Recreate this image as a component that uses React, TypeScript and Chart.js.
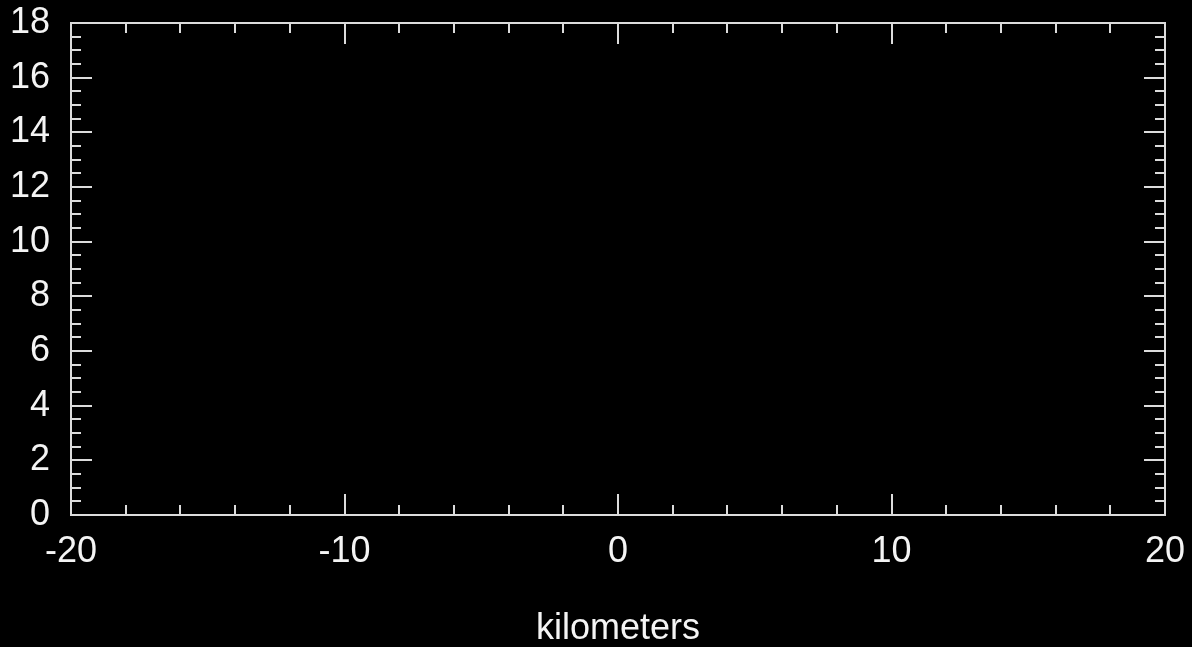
import React, { useEffect, useRef } from "react";
import Chart from "chart.js/auto";

// Axis definitions
const xRange = [-20, 20];
const yRange = [0, 18];
const xLabelStep = 10;
const yLabelStep = 2;
const xMinorStep = 2;
const yMinorStep = 0.5;
const xTitle = "kilometers";
// The plot holds no data
const seriesX: number[] = [];
const seriesY: number[] = [];

const FG = "#dcdcdc";
const TXT = "#f4f4f4";
const FONT = "'Liberation Sans', Arial, sans-serif";

const framePlugin = {
  id: "frame",
  afterDraw(chart: any) {
    const { ctx, chartArea: a, scales } = chart;
    const xs = scales.x;
    const ys = scales.y;
    ctx.save();
    ctx.strokeStyle = FG;
    ctx.lineWidth = 2;
    ctx.lineCap = "butt";
    ctx.strokeRect(a.left, a.top, a.right - a.left, a.bottom - a.top);
    ctx.beginPath();
    const nx = Math.round((xRange[1] - xRange[0]) / xMinorStep);
    for (let i = 1; i < nx; i++) {
      const v = xRange[0] + i * xMinorStep;
      const major = Math.abs(v % xLabelStep) < 1e-9;
      const len = major ? 21 : 10;
      const px = Math.round(xs.getPixelForValue(v));
      ctx.moveTo(px, a.bottom);
      ctx.lineTo(px, a.bottom - len);
      ctx.moveTo(px, a.top);
      ctx.lineTo(px, a.top + len);
    }
    const ny = Math.round((yRange[1] - yRange[0]) / yMinorStep);
    for (let i = 1; i < ny; i++) {
      const v = yRange[0] + i * yMinorStep;
      const major = Math.abs(v % yLabelStep) < 1e-9;
      const len = major ? 21 : 10;
      const py = Math.round(ys.getPixelForValue(v));
      ctx.moveTo(a.left, py);
      ctx.lineTo(a.left + len, py);
      ctx.moveTo(a.right, py);
      ctx.lineTo(a.right - len, py);
    }
    ctx.stroke();
    ctx.restore();
  },
};

export default function App() {
  const ref = useRef<HTMLCanvasElement | null>(null);
  useEffect(() => {
    document.body.style.margin = "0";
    document.body.style.background = "#000";
    const c = ref.current;
    if (!c) return;
    const chart = new Chart(c, {
      type: "scatter",
      data: {
        datasets: [
          {
            data: seriesX.map((x, i) => ({ x, y: seriesY[i] })),
            borderColor: FG,
            backgroundColor: FG,
          },
        ],
      },
      options: {
        animation: false,
        responsive: false,
        maintainAspectRatio: false,
        layout: { padding: { left: 0, top: 23, right: 27, bottom: 0 } },
        plugins: { legend: { display: false }, tooltip: { enabled: false } },
        scales: {
          x: {
            type: "linear",
            min: xRange[0],
            max: xRange[1],
            grid: { display: false, drawTicks: false },
            border: { display: false },
            ticks: {
              stepSize: xLabelStep,
              color: TXT,
              padding: 15,
              font: { family: FONT, size: 36 },
              maxRotation: 0,
            },
            title: {
              display: true,
              text: xTitle,
              color: TXT,
              font: { family: FONT, size: 36 },
              padding: { top: 0, bottom: -4 },
            },
            afterFit(scale: any) {
              scale.height = 132;
              scale.paddingLeft = 0;
              scale.paddingRight = 0;
            },
          },
          y: {
            type: "linear",
            min: yRange[0],
            max: yRange[1],
            grid: { display: false, drawTicks: false },
            border: { display: false },
            ticks: {
              stepSize: yLabelStep,
              color: TXT,
              padding: 21,
              font: { family: FONT, size: 36 },
            },
            afterFit(scale: any) {
              scale.width = 71;
              scale.paddingTop = 0;
              scale.paddingBottom = 0;
            },
          },
        },
      },
      plugins: [framePlugin],
    });
    return () => chart.destroy();
  }, []);
  return (
    <div style={{ position: "fixed", left: 0, top: 0, width: 1192, height: 647, background: "#000" }}>
      <canvas ref={ref} width={1192} height={647} style={{ width: 1192, height: 647, display: "block" }} />
    </div>
  );
}
